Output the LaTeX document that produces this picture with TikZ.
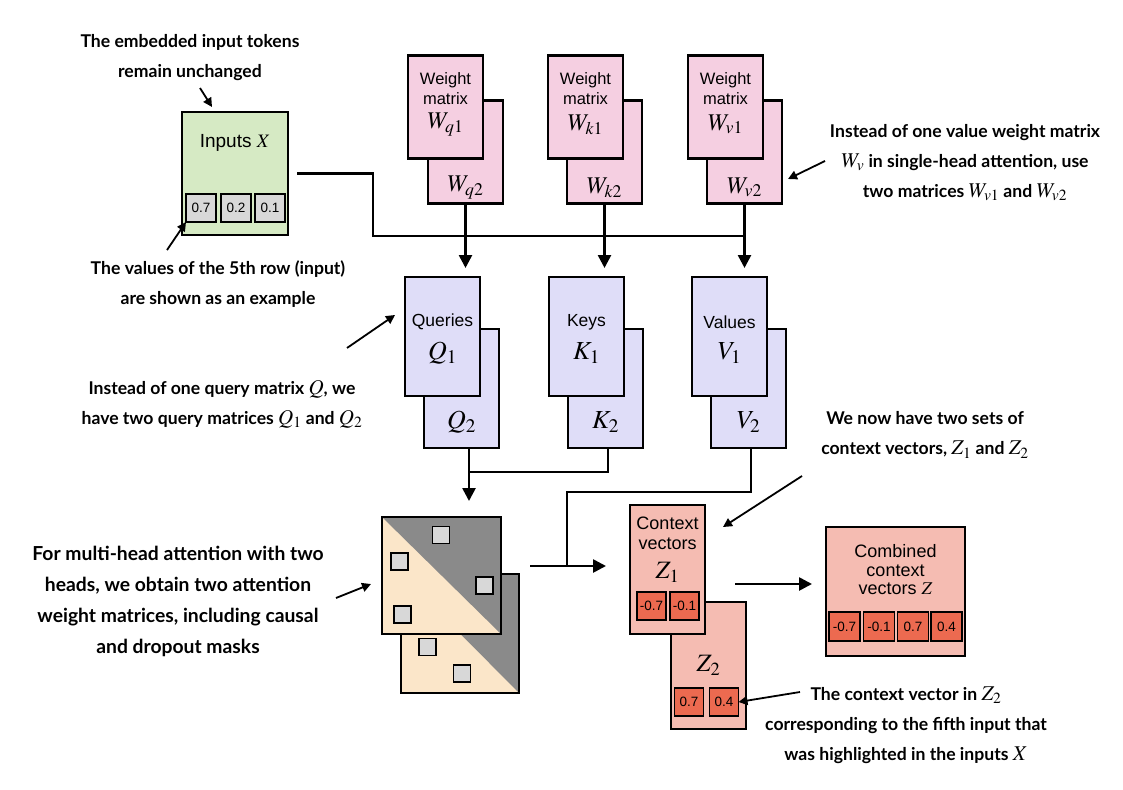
\documentclass[tikz,border=0pt]{standalone}
\usepackage{mathptmx}
\usepackage[no-math]{fontspec}
\setmainfont{Liberation Sans}
\newfontfamily\annfont{Lato}
\usetikzlibrary{arrows.meta,calc}
\newcommand\annm[1]{{\fontsize{21}{30}\selectfont$#1$}}
\definecolor{pinkW}{HTML}{F5CFE1}
\definecolor{lavQ}{HTML}{DFDDF8}
\definecolor{greenX}{HTML}{D6EAC4}
\definecolor{salmonZ}{HTML}{F5BCB2}
\definecolor{redcell}{HTML}{EC6A50}
\definecolor{graycell}{HTML}{D8D8D8}
\definecolor{beigeA}{HTML}{FBE6C9}
\definecolor{darkgA}{HTML}{8A8A8A}
\tikzset{
  box/.style={draw=black, line width=2.2pt, inner sep=0pt, outer sep=0pt, rectangle},
  wbox/.style={box, fill=pinkW, minimum width=75pt, minimum height=103pt},
  qbox/.style={box, fill=lavQ, minimum width=75pt, minimum height=119pt},
  cell/.style={draw=black, line width=1.6pt, inner sep=0pt, outer sep=0pt, minimum width=30pt, minimum height=28pt, font=\fontsize{13.5}{15}\selectfont},
  gcell/.style={cell, fill=graycell},
  rcell/.style={cell, fill=redcell},
  sq/.style={draw=black, line width=1.5pt, fill=graycell, minimum size=17pt, inner sep=0pt},
  lbl/.style={font=\fontsize{16.5}{19.5}\selectfont, align=center, inner sep=0pt},
  mlbl/.style={font=\fontsize{24}{28}\selectfont, inner sep=0pt},
  qlbl/.style={font=\fontsize{26}{30}\selectfont, inner sep=0pt},
  conn/.style={line width=2.6pt},
  arr/.style={conn, -{Triangle[length=13pt,width=13pt]}},
  ann/.style={font=\annfont\bfseries\fontsize{17.6}{30}\selectfont, align=center, inner sep=0pt},
  note/.style={line width=1.8pt, -{Triangle[length=9pt,width=9pt]}}
}
\begin{document}
\begin{tikzpicture}[x=1pt,y=-1pt]
\useasboundingbox (0,0) rectangle (1123,789);

% ---------- Inputs ----------
\node[box, fill=greenX, minimum width=106pt, minimum height=123pt] (inp) at (235,173.5) {};
\node[font=\fontsize{19}{22}\selectfont, inner sep=0pt] (inpT) at (235,143) {Inputs $X$};
\node[gcell] (x1) at (201,208) {0.7};
\node[gcell] (x2) at (236,208) {0.2};
\node[gcell] (x3) at (270,208) {0.1};

% ---------- Weight matrices ----------
\node[wbox] (wq2) at (465.5,152) {};
\node[wbox] (wq1) at (445.5,107) {};
\node[wbox] (wk2) at (604.5,152) {};
\node[wbox] (wk1) at (585.5,107) {};
\node[wbox] (wv2) at (744.5,152) {};
\node[wbox] (wv1) at (725.5,107) {};
\foreach \n/\s in {q/q,k/k,v/v}{
  \node[lbl] (w\n1a) at ($(w\n1.north)+(0,33)$) {Weight\\matrix};
  \node[mlbl] (w\n1b) at ($(w\n1.north)+(0,69)$) {$W_{\s1}$};
  \node[mlbl] (w\n2b) at ($(w\n2.north)+(0,87)$) {$W_{\s2}$};
}

% ---------- Q K V ----------
\node[qbox] (q2) at (461.5,388.5) {};
\node[qbox] (q1) at (442.5,336.5) {};
\node[qbox] (k2) at (605.5,388.5) {};
\node[qbox] (k1) at (586.5,336.5) {};
\node[qbox] (v2) at (748.5,388.5) {};
\node[qbox] (v1) at (729.5,336.5) {};
\node[lbl, font=\fontsize{17.5}{20}\selectfont] (q1a) at ($(q1.north)+(0,45)$) {Queries};
\node[lbl, font=\fontsize{17.5}{20}\selectfont] (k1a) at ($(k1.north)+(0,45)$) {Keys};
\node[lbl, font=\fontsize{17.5}{20}\selectfont] (v1a) at ($(v1.north)+(0,45)$) {Values};
\node[qlbl] (q1b) at ($(q1.north)+(0,76)$) {$Q_1$};
\node[qlbl] (k1b) at ($(k1.north)+(0,76)$) {$K_1$};
\node[qlbl] (v1b) at ($(v1.north)+(0,76)$) {$V_1$};
\node[qlbl] (q2b) at ($(q2.north)+(0,93)$) {$Q_2$};
\node[qlbl] (k2b) at ($(k2.north)+(0,93)$) {$K_2$};
\node[qlbl] (v2b) at ($(v2.north)+(0,93)$) {$V_2$};

% ---------- Attention weight matrices ----------
\node[fill=beigeA, minimum width=118pt, minimum height=119pt, inner sep=0pt, outer sep=0pt] (att2) at (460,633.5) {};
\fill[darkgA] (att2.north west) -- (att2.north east) -- (att2.south east) -- cycle;
\draw[line width=2.2pt] (att2.north west) rectangle (att2.south east);
\node[sq] (s5) at (427.5,647) {};
\node[sq] (s6) at (462,673.5) {};
\node[fill=beigeA, minimum width=119pt, minimum height=117pt, inner sep=0pt, outer sep=0pt] (att1) at (441.5,575.5) {};
\fill[darkgA] (att1.north west) -- (att1.north east) -- (att1.south east) -- cycle;
\draw[line width=2.2pt] (att1.north west) rectangle (att1.south east);
\node[sq] (s1) at (441,535) {};
\node[sq] (s2) at (399.5,561.5) {};
\node[sq] (s3) at (484.5,585.5) {};
\node[sq] (s4) at (402.5,614.5) {};

% ---------- Context vectors ----------
\node[box, fill=salmonZ, minimum width=75pt, minimum height=127pt] (z2) at (708.5,665.5) {};
\node[box, fill=salmonZ, minimum width=75pt, minimum height=129pt] (z1) at (667.5,569.5) {};
\node[lbl, font=\fontsize{18}{20}\selectfont] (z1a) at (667.5,533) {Context\\vectors};
\node[qlbl, font=\fontsize{25}{30}\selectfont] (z1b) at (667.5,572) {$Z_1$};
\node[rcell, minimum width=29pt] (c1) at (651.5,606) {-0.7};
\node[rcell, minimum width=29pt] (c2) at (684.5,606) {-0.1};
\node[qlbl, font=\fontsize{25}{30}\selectfont] (z2b) at (708.5,665) {$Z_2$};
\node[rcell, minimum width=29pt] (c3) at (689,702) {0.7};
\node[rcell, minimum width=29pt] (c4) at (724,702) {0.4};

\node[box, fill=salmonZ, minimum width=139pt, minimum height=129pt] (zc) at (895.5,591.5) {};
\node[lbl, font=\fontsize{18}{18.5}\selectfont] (zca) at (895.5,570) {Combined\\context\\vectors $Z$};
\node[rcell, minimum width=31pt, minimum height=29pt] (d1) at (844.5,626.5) {-0.7};
\node[rcell, minimum width=31pt, minimum height=29pt] (d2) at (879,626.5) {-0.1};
\node[rcell, minimum width=31pt, minimum height=29pt] (d3) at (913,626.5) {0.7};
\node[rcell, minimum width=31pt, minimum height=29pt] (d4) at (946.5,626.5) {0.4};

% ---------- Connectors ----------
\coordinate (j1) at (373,173.5);
\coordinate (j2) at (373,236);
\coordinate (j3) at (744.5,236);
\draw[conn] ($(inp.east)+(9,0)$) -- (j1) -- (j2) -- (j3);
\draw[arr, shorten >=9pt] (wq2.south) -- (wq2.south |- q1.north);
\draw[arr, shorten >=9pt] (wk2.south) -- (wk2.south |- k1.north);
\draw[arr, shorten >=9pt] (wv2.south) -- (wv2.south |- v1.north);

\coordinate (qk) at (469,472);
\coordinate (kx) at (608,0);
\draw[conn] (k2.south -| kx) |- (qk);
\coordinate (qa) at (q2.south -| qk);
\draw[arr, shorten >=16pt] (qa) -- (qa |- att1.north);

\coordinate (vj) at (567,492);
\coordinate (hj) at (567,566);
\coordinate (vx) at (751,0);
\draw[conn] (v2.south -| vx) |- (vj) -- (hj);
\draw[arr, shorten >=24pt] ($(att1.east |- hj)+(29,0)$) -- (z1.west |- hj);
\draw[arr, shorten >=14pt] ($(z1.east)+(30,14.5)$) -- ($(zc.west)+(0,-7.5)$);

% ---------- Annotations ----------
\node[ann] (a1) at (190,57.5) {The embedded input tokens\\remain unchanged};
\coordinate (a1t) at (200,88);
\draw[note] (a1t) -- (212,107);

\node[ann] (a2) at (218,284) {The values of the 5th row (input)\\are shown as an example};
\coordinate (a2t) at (167,250);
\draw[note] (a2t) -- (x1.south west);

\node[ann] (a3) at (965,163) {Instead of one value weight matrix\\\annm{W_v} in single-head attention, use\\two matrices \annm{W_{v1}} and \annm{W_{v2}}};
\coordinate (a3t) at (825,161);
\draw[note] (a3t) -- (788,179);

\node[ann] (a4) at (222,404) {Instead of one query matrix \annm{Q}, we\\have two query matrices \annm{Q_1} and \annm{Q_2}};
\coordinate (a4t) at (347,348);
\draw[note] (a4t) -- (395,315);

\node[ann] (a5) at (925,435) {We now have two sets of\\context vectors, \annm{Z_1} and \annm{Z_2}};
\coordinate (a5t) at (802,476);
\draw[note] (a5t) -- (723,527);

\node[ann, font=\annfont\bfseries\fontsize{19.3}{31}\selectfont] (a6) at (178,601) {For multi-head attention with two\\heads, we obtain two attention\\weight matrices, including causal\\and dropout masks};
\coordinate (a6t) at (336,598);
\draw[note] (a6t) -- (371,584);

\node[ann] (a7) at (906,725) {The context vector in \annm{Z_2}\\corresponding to the fifth input that\\was highlighted in the inputs \annm{X}};
\coordinate (a7t) at (800,692);
\draw[note] (a7t) -- (c4.east);
\end{tikzpicture}
\end{document}
